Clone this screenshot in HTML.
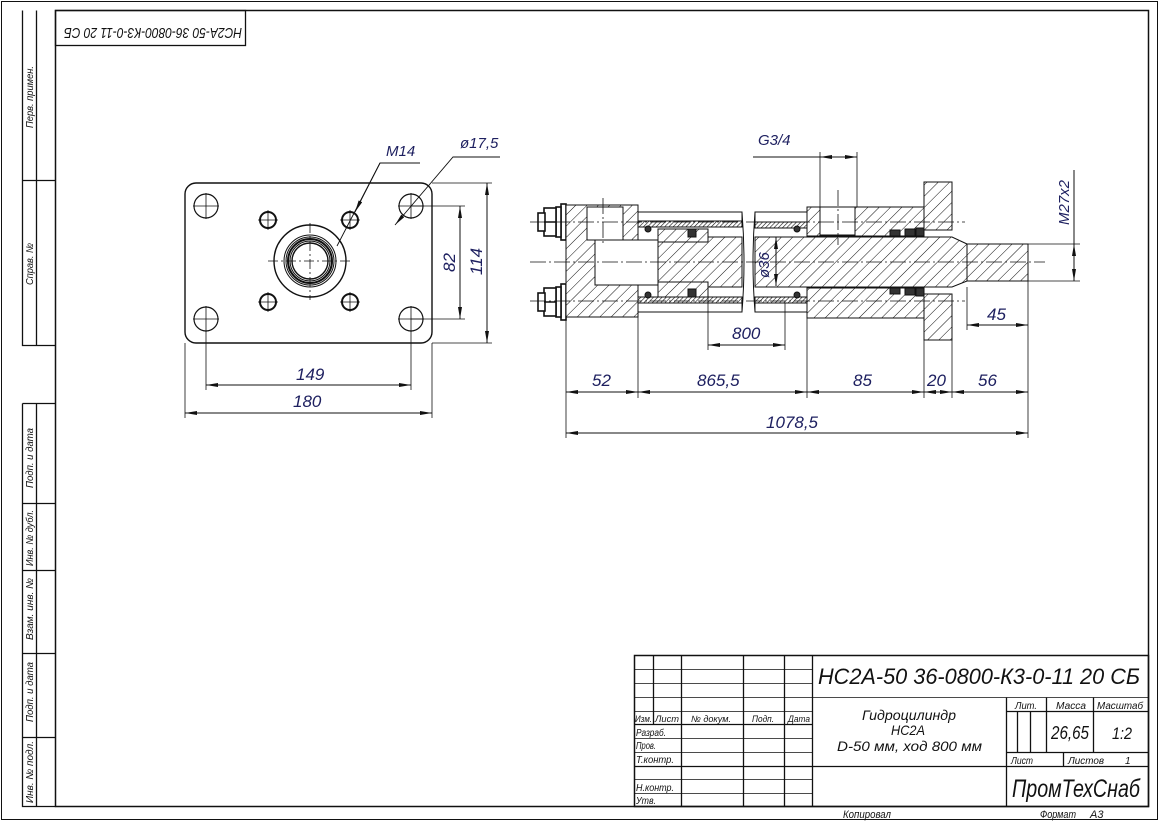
<!DOCTYPE html>
<html><head><meta charset="utf-8"><style>
html,body{margin:0;padding:0;background:#fff}
svg{display:block}
text{font-family:"Liberation Sans",sans-serif;font-style:italic}
.d{fill:#1e2060;font-size:17px}
.t{fill:#111;font-size:10px}
</style></head><body>
<svg width="1159" height="821" viewBox="0 0 1159 821" xmlns="http://www.w3.org/2000/svg">
<defs>
<pattern id="h" width="8" height="8" patternUnits="userSpaceOnUse" patternTransform="rotate(45)">
<rect width="8" height="8" fill="#fff"/><line x1="0" y1="0" x2="0" y2="8" stroke="#111" stroke-width="1"/></pattern>
<pattern id="hd" width="3" height="3" patternUnits="userSpaceOnUse" patternTransform="rotate(45)">
<rect width="3" height="3" fill="#fff"/><line x1="0" y1="0" x2="0" y2="3" stroke="#111" stroke-width="1.2"/></pattern>
<marker id="a" viewBox="0 0 12 4" refX="12" refY="2" markerWidth="12" markerHeight="4" orient="auto-start-reverse" markerUnits="userSpaceOnUse"><path d="M0,0L12,2L0,4z" fill="#111"/></marker>
</defs>
<g fill="none" stroke="#111" stroke-width="1">
<rect x="1.5" y="1.5" width="1156" height="818"/>
<rect x="55.5" y="10.5" width="1093" height="796" stroke-width="1.5"/>
<path d="M22.5 10.5V345.5H55.5M36.5 10.5V345.5M22.5 180.5H55.5M22.5 403.5H55.5M22.5 403.5V806.5H55.5M36.5 403.5V806.5M22.5 503.5H55.5M22.5 570.5H55.5M22.5 653.5H55.5M22.5 737.5H55.5" stroke-width="1.3"/>
<rect x="55.5" y="10.5" width="190" height="35" stroke-width="1.3"/>
</g>
<g class="t" font-size="10">
<text transform="translate(33,128) rotate(-90)" textLength="62" lengthAdjust="spacingAndGlyphs">Перв. примен.</text>
<text transform="translate(33,285) rotate(-90)" textLength="42" lengthAdjust="spacingAndGlyphs">Справ. №</text>
<text transform="translate(33,488) rotate(-90)" textLength="60" lengthAdjust="spacingAndGlyphs">Подп. и дата</text>
<text transform="translate(33,566) rotate(-90)" textLength="56" lengthAdjust="spacingAndGlyphs">Инв. № дубл.</text>
<text transform="translate(33,640) rotate(-90)" textLength="62" lengthAdjust="spacingAndGlyphs">Взам. инв. №</text>
<text transform="translate(33,722) rotate(-90)" textLength="60" lengthAdjust="spacingAndGlyphs">Подп. и дата</text>
<text transform="translate(33,803) rotate(-90)" textLength="62" lengthAdjust="spacingAndGlyphs">Инв. № подл.</text>
</g>
<text transform="translate(242,28) rotate(180)" style="font-size:15px;fill:#111" textLength="178" lengthAdjust="spacingAndGlyphs">НС2А-50 36-0800-К3-0-11 20 СБ</text>

<g fill="none" stroke="#111" stroke-width="1">
<rect x="634.5" y="655.5" width="514" height="151" stroke-width="1.5"/>
<path d="M653.5 655.5V724.5M681.5 655.5V806.5M743.5 655.5V806.5M784.5 655.5V806.5M812.5 655.5V806.5" stroke-width="1.3"/>
<path d="M634.5 669.5H812.5M634.5 683.5H812.5M634.5 697.5H1148.5M634.5 711.5H812.5M634.5 724.5H812.5M634.5 738.5H812.5M634.5 752.5H812.5M634.5 766.5H812.5M634.5 779.5H812.5M634.5 793.5H812.5" stroke-width="0.8"/>
<path d="M634.5 724.5H812.5M634.5 766.5H812.5" stroke-width="1.3"/>
<path d="M1006.5 697.5V806.5M1046.5 697.5V752.5M1093.5 697.5V752.5M1006.5 711.5H1148.5M1006.5 752.5H1148.5M1006.5 766.5H1148.5M1017.5 711.5V752.5M1030.5 711.5V752.5M1063.5 752.5V766.5M812.5 766.5H1006.5" stroke-width="1.3"/>
</g>
<g class="t">
<text x="818" y="684" style="font-size:22px" textLength="322" lengthAdjust="spacingAndGlyphs">НС2А-50 36-0800-К3-0-11 20 СБ</text>
<text x="635" y="722" style="font-size:9px" textLength="17" lengthAdjust="spacingAndGlyphs">Изм.</text><text x="655" y="722" style="font-size:9px" textLength="24" lengthAdjust="spacingAndGlyphs">Лист</text>
<text x="691" y="722" style="font-size:9px" textLength="40" lengthAdjust="spacingAndGlyphs">№ докум.</text><text x="752" y="722" style="font-size:9px" textLength="22" lengthAdjust="spacingAndGlyphs">Подп.</text><text x="788" y="722" style="font-size:9px" textLength="22" lengthAdjust="spacingAndGlyphs">Дата</text>
<text x="636" y="736" style="font-size:10px" textLength="30" lengthAdjust="spacingAndGlyphs">Разраб.</text><text x="636" y="749" style="font-size:10px" textLength="20" lengthAdjust="spacingAndGlyphs">Пров.</text>
<text x="636" y="763" style="font-size:10px" textLength="38" lengthAdjust="spacingAndGlyphs">Т.контр.</text><text x="636" y="791" style="font-size:10px" textLength="38" lengthAdjust="spacingAndGlyphs">Н.контр.</text><text x="636" y="804" style="font-size:10px" textLength="20" lengthAdjust="spacingAndGlyphs">Утв.</text>
<text x="862" y="720" style="font-size:14px" textLength="94" lengthAdjust="spacingAndGlyphs">Гидроцилиндр</text>
<text x="891" y="735" style="font-size:14px" textLength="34" lengthAdjust="spacingAndGlyphs">НС2А</text>
<text x="837" y="751" style="font-size:14px" textLength="145" lengthAdjust="spacingAndGlyphs">D-50 мм, ход 800 мм</text>
<text x="1015" y="709" style="font-size:10px" textLength="22" lengthAdjust="spacingAndGlyphs">Лит.</text><text x="1056" y="709" style="font-size:10px" textLength="30" lengthAdjust="spacingAndGlyphs">Масса</text><text x="1097" y="709" style="font-size:10px" textLength="46" lengthAdjust="spacingAndGlyphs">Масштаб</text>
<text x="1051" y="739" style="font-size:18px" textLength="38" lengthAdjust="spacingAndGlyphs">26,65</text><text x="1112" y="739" style="font-size:17px" textLength="20" lengthAdjust="spacingAndGlyphs">1:2</text>
<text x="1011" y="764" style="font-size:10px" textLength="22" lengthAdjust="spacingAndGlyphs">Лист</text><text x="1068" y="764" style="font-size:10px" textLength="36" lengthAdjust="spacingAndGlyphs">Листов</text><text x="1125" y="764" style="font-size:10px">1</text>
<text x="1012" y="797" style="font-size:25px" textLength="128" lengthAdjust="spacingAndGlyphs">ПромТехСнаб</text>
<text x="843" y="818" style="font-size:11px" textLength="48" lengthAdjust="spacingAndGlyphs">Копировал</text>
<text x="1040" y="818" style="font-size:11px" textLength="36" lengthAdjust="spacingAndGlyphs">Формат</text><text x="1090" y="818" style="font-size:11px">А3</text>
</g>

<g fill="none" stroke="#111" stroke-width="1">
<rect x="185" y="183" width="247" height="160" rx="11" stroke-width="1.4"/>
<g stroke-width="1.2">
<circle cx="206" cy="206" r="12"/><circle cx="411" cy="206" r="12"/><circle cx="206" cy="319" r="12"/><circle cx="411" cy="319" r="12"/>
</g>
<g stroke-width="0.8"><path d="M193 206H219M206 193V219M398 206H424M411 193V219M193 319H219M206 306V332M398 319H424M411 306V332"/>
<path d="M258 220H278M268 210V230M340 220H360M350 210V230M258 302H278M268 292V312M340 302H360M350 292V312"/>
<path d="M268 261H352M310 223V300" stroke-dasharray="10 3 2 3"/></g>
<g stroke-width="2"><circle cx="268" cy="220" r="8"/><circle cx="350" cy="220" r="8"/><circle cx="268" cy="302" r="8"/><circle cx="350" cy="302" r="8"/></g>
<circle cx="310" cy="261" r="36" stroke-width="1.4"/>
<circle cx="310" cy="261" r="26" stroke-width="1"/>
<circle cx="310" cy="261" r="24" stroke-width="1"/>
<circle cx="310" cy="261" r="22" stroke-width="2"/>
<circle cx="310" cy="261" r="20" stroke-width="1"/>
<circle cx="310" cy="261" r="18" stroke-width="1.4"/>
<path d="M337 246L380 163H420" stroke-width="0.9"/>
<path d="M380 163L355 212" marker-end="url(#a)" stroke-width="0.9"/>
<path d="M500 157H453L395 225" stroke-width="0.9" marker-end="url(#a)"/>
<path d="M411 206H465M411 319H465M432 183H492M432 343H492M206 331V390M411 331V390M185 343V418M432 343V418" stroke-width="0.8"/>
<path d="M460 206V319" marker-start="url(#a)" marker-end="url(#a)"/>
<path d="M487 183V343" marker-start="url(#a)" marker-end="url(#a)"/>
<path d="M206 385H411" marker-start="url(#a)" marker-end="url(#a)"/>
<path d="M185 413H432" marker-start="url(#a)" marker-end="url(#a)"/>
</g>
<text class="d" x="386" y="156" style="font-size:15px">M14</text>
<text class="d" x="460" y="148" style="font-size:15px">ø17,5</text>
<text class="d" transform="translate(455,272) rotate(-90)">82</text>
<text class="d" transform="translate(482,275) rotate(-90)">114</text>
<text class="d" x="296" y="380">149</text>
<text class="d" x="293" y="407">180</text>

<g stroke="#111" stroke-width="1">
<g fill="#fff" stroke-width="1.6">
<rect x="561" y="204" width="5" height="36"/><rect x="556" y="207" width="5" height="30"/>
<rect x="544" y="208" width="12" height="28"/><rect x="538" y="213" width="7" height="18"/>
<rect x="561" y="284" width="5" height="36"/><rect x="556" y="287" width="5" height="30"/>
<rect x="544" y="288" width="12" height="28"/><rect x="538" y="293" width="7" height="18"/>
<path d="M544 222H556M544 302H556" fill="none"/>
</g>
<path d="M566 205H638V317H566Z" fill="url(#h)"/>
<rect x="587" y="207" width="36" height="33" fill="#fff"/>
<rect x="595" y="240" width="63" height="45" fill="#fff"/>
<rect x="638" y="212" width="104" height="15" fill="#fff"/>
<rect x="638" y="221" width="104" height="6" fill="url(#hd)"/>
<rect x="638" y="297" width="104" height="15" fill="#fff"/>
<rect x="638" y="297" width="104" height="6" fill="url(#hd)"/>
<rect x="658" y="237" width="84" height="50" fill="url(#h)"/>
<rect x="658" y="229" width="50" height="13" fill="url(#h)"/>
<rect x="658" y="282" width="50" height="15" fill="url(#h)"/>
<rect x="688" y="229" width="8" height="8" fill="#333"/><rect x="688" y="289" width="8" height="8" fill="#333"/>
<rect x="755" y="212" width="52" height="15" fill="#fff"/>
<rect x="755" y="222" width="52" height="6" fill="url(#hd)"/>
<rect x="755" y="297" width="52" height="15" fill="#fff"/>
<rect x="755" y="297" width="52" height="6" fill="url(#hd)"/>
<path d="M807 207H924V236H807Z" fill="url(#h)"/>
<path d="M807 288H924V318H807Z" fill="url(#h)"/>
<rect x="820" y="207" width="35" height="28" fill="#fff"/>
<path d="M755 237H952L967 244V281L952 287H755Z" fill="url(#h)"/>
<rect x="967" y="244" width="61" height="37" fill="url(#h)"/>
<g fill="#333"><rect x="890" y="230" width="10" height="6"/><rect x="905" y="229" width="10" height="7"/><rect x="916" y="228" width="8" height="8"/>
<rect x="890" y="288" width="10" height="6"/><rect x="905" y="288" width="10" height="7"/><rect x="916" y="288" width="8" height="8"/>
<circle cx="648" cy="229" r="3"/><circle cx="648" cy="295" r="3"/><circle cx="797" cy="229" r="3"/><circle cx="797" cy="295" r="3"/></g>
<rect x="924" y="182" width="28" height="48" fill="url(#h)"/>
<rect x="924" y="294" width="28" height="46" fill="url(#h)"/>
<path d="M742 212Q746 262 742 312M755 212Q751 262 755 312" fill="none"/>
<g fill="none" stroke-width="0.8" stroke-dasharray="16 3 2 3">
<path d="M530 262H1045M530 222H965M530 301H965M603 198V245M838 190V245"/>
</g>
<g fill="none" stroke-width="0.8">
<path d="M566 320V398M638 317V398M807 318V398M924 340V398M952 340V398M1028 281V438M566 398V438M708 297V350M785 303V350M967 287V330M1028 244H1080M1028 281H1080M820 207V152M857 207V152"/>
</g>
<g fill="none" stroke-width="1">
<path d="M566 392H638" marker-start="url(#a)" marker-end="url(#a)"/>
<path d="M638 392H807" marker-start="url(#a)" marker-end="url(#a)"/>
<path d="M807 392H924" marker-start="url(#a)" marker-end="url(#a)"/>
<path d="M924 392H952" marker-start="url(#a)" marker-end="url(#a)"/>
<path d="M952 392H1028" marker-start="url(#a)" marker-end="url(#a)"/>
<path d="M566 433H1028" marker-start="url(#a)" marker-end="url(#a)"/>
<path d="M708 345H785" marker-start="url(#a)" marker-end="url(#a)"/>
<path d="M967 325H1028" marker-start="url(#a)" marker-end="url(#a)"/>
<path d="M1074 244V281" marker-start="url(#a)" marker-end="url(#a)"/>
<path d="M776 237V286" marker-start="url(#a)" marker-end="url(#a)"/>
<path d="M753 157H857" />
<path d="M835 157H820" marker-end="url(#a)"/><path d="M842 157H857" marker-end="url(#a)"/>
<path d="M1074 244V170"/>
</g>
</g>
<text class="d" x="592" y="386">52</text>
<text class="d" x="697" y="386">865,5</text>
<text class="d" x="853" y="386">85</text>
<text class="d" x="927" y="386">20</text>
<text class="d" x="978" y="386">56</text>
<text class="d" x="766" y="428">1078,5</text>
<text class="d" x="732" y="339">800</text>
<text class="d" x="987" y="320">45</text>
<text class="d" x="758" y="145" style="font-size:15px">G3/4</text>
<text class="d" transform="translate(769,278) rotate(-90)" style="font-size:15px">ø36</text>
<text class="d" transform="translate(1069,225) rotate(-90)" style="font-size:15px">M27x2</text>
</svg>
</body></html>
